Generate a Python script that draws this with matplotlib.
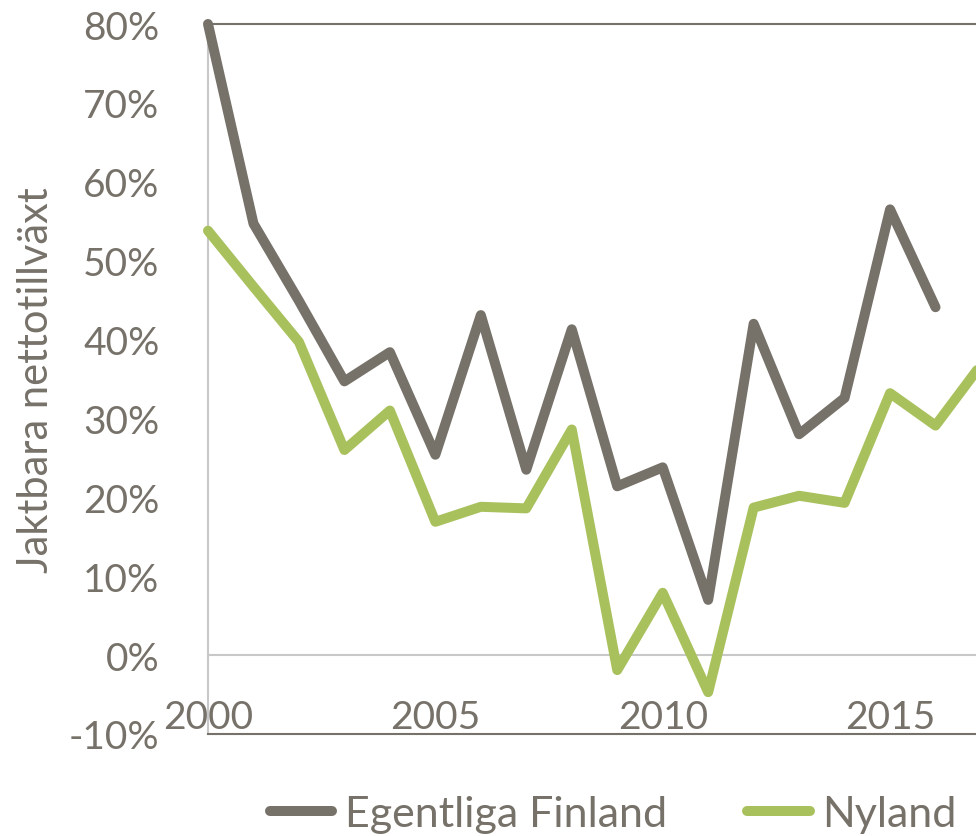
import matplotlib.pyplot as plt
from matplotlib.ticker import FuncFormatter

years_ef = list(range(2000, 2017))
egentliga = [80.0, 54.7, 44.9, 34.7, 38.4, 25.4, 43.1, 23.5, 41.3, 21.4, 23.8, 7.0, 42.0, 28.0, 32.6, 56.5, 44.1]
years_ny = list(range(2000, 2018))
nyland = [53.8, 46.7, 39.7, 26.0, 31.0, 16.9, 18.8, 18.6, 28.6, -1.9, 7.9, -4.7, 18.7, 20.2, 19.3, 33.2, 29.1, 36.8]

gray = "#767169"
green = "#a9c15d"
txt = "#767169"

plt.rcParams['font.family'] = ['Lato', 'DejaVu Sans']

fig = plt.figure(figsize=(9.76, 8.37), dpi=100)
ax = fig.add_axes([208/976, (837-735)/837, 1 - 208/976, (735-25)/837])

ax.plot(years_ef, egentliga, color=gray, lw=7.2, solid_capstyle='round', solid_joinstyle='round',
        label="Egentliga Finland", clip_on=False, zorder=3)
ax.plot(years_ny, nyland, color=green, lw=7.2, solid_capstyle='round', solid_joinstyle='round',
        label="Nyland", clip_on=False, zorder=3)

ax.set_xlim(2000, 2000 + 768/45.47)
ax.set_ylim(-10, 80)
ax.axhline(0, color="#c8c8c8", lw=1.5, zorder=1)

ax.set_yticks(range(-10, 81, 10))
ax.yaxis.set_major_formatter(FuncFormatter(lambda v, p: f"{int(v)}%"))
ax.set_xticks([2000, 2005, 2010, 2015])
ax.tick_params(axis='y', length=0, labelsize=28, colors=txt, pad=35)
ax.tick_params(axis='x', length=0, labelsize=28, colors=txt, pad=-25)
for lab in ax.get_yticklabels():
    lab.set_horizontalalignment('right')

ax.spines['right'].set_visible(False)
ax.spines['left'].set_color("#c8c8c8")
ax.spines['left'].set_linewidth(1.5)
ax.spines['top'].set_color(gray)
ax.spines['top'].set_linewidth(1.5)
ax.spines['bottom'].set_color(gray)
ax.spines['bottom'].set_linewidth(1.5)

ax.set_ylabel("Jaktbara nettotillväxt", fontsize=30, color=txt, labelpad=10)

leg = fig.legend(loc='center left', bbox_to_anchor=(270/976, 1 - 815/837), ncol=2, frameon=False,
                 fontsize=31, handlelength=1.45, columnspacing=1.85, handletextpad=0.3,
                 borderpad=0, borderaxespad=0)
for t in leg.get_texts():
    t.set_color(txt)

fig.savefig("out.png", dpi=100)
